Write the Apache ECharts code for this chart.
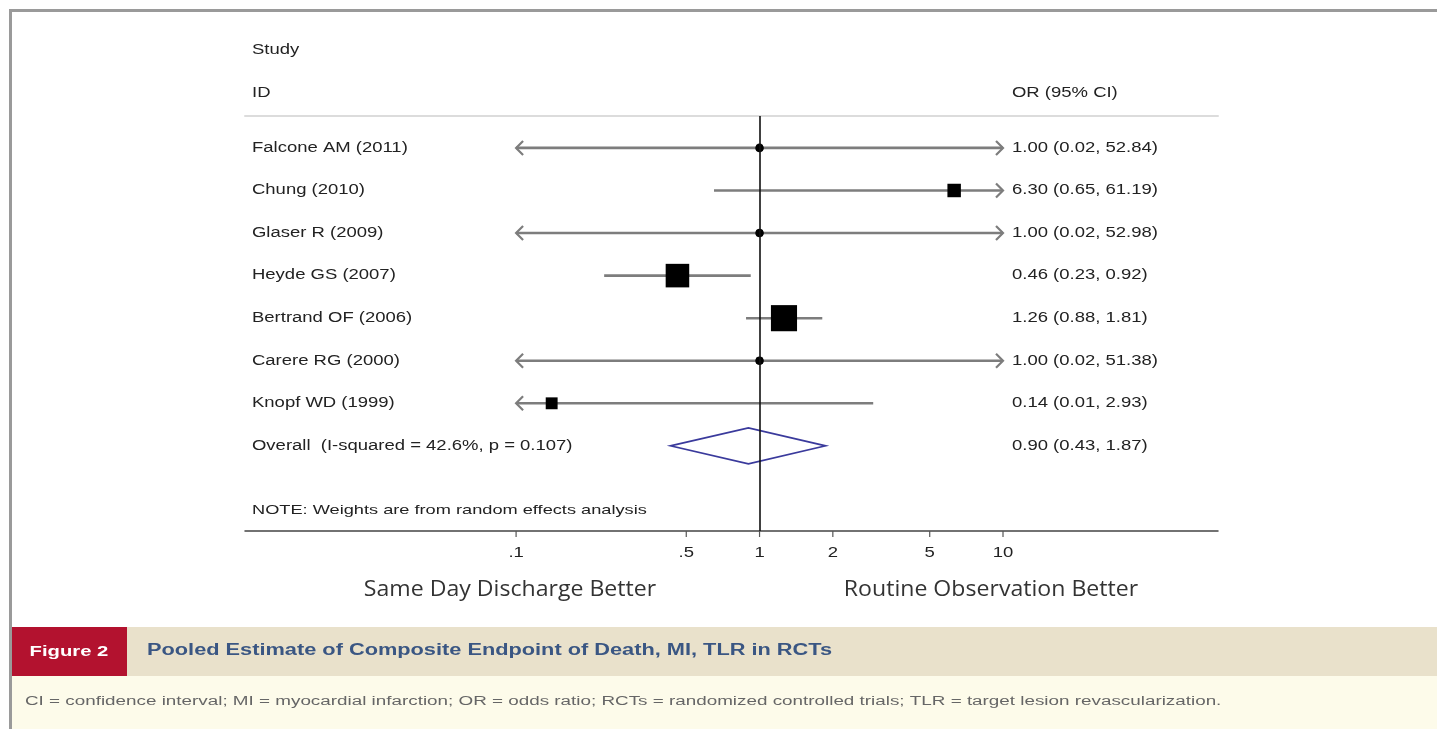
<!DOCTYPE html>
<html>
<head>
<meta charset="utf-8">
<script src="https://cdn.jsdelivr.net/npm/echarts@6/dist/echarts.min.js"></script>
<style>
  html, body { margin: 0; padding: 0; background: #fff; }
  #chart { width: 1437px; height: 729px; }
</style>
</head>
<body>
<div id="chart"></div>
<script>
// Study-level odds ratios with 95% confidence intervals
const studies   = ['Falcone AM (2011)', 'Chung (2010)', 'Glaser R (2009)', 'Heyde GS (2007)',
                   'Bertrand OF (2006)', 'Carere RG (2000)', 'Knopf WD (1999)'];
const oddsRatio = [1.00, 6.30, 1.00, 0.46, 1.26, 1.00, 0.14];
const ciLower   = [0.02, 0.65, 0.02, 0.23, 0.88, 0.02, 0.01];
const ciUpper   = [52.84, 61.19, 52.98, 0.92, 1.81, 51.38, 2.93];
// random-effects weights (%), shown as box area
const weights   = [2.4, 10.8, 2.4, 33.0, 40.6, 2.4, 8.4];

// Pooled estimate: OR, lower, upper
const overallLabel = 'Overall  (I-squared = 42.6%, p = 0.107)';
const overallEstimate = [0.90, 0.43, 1.87];

// Axis ticks
const tickValues = [0.1, 0.5, 1, 2, 5, 10];
const tickLabels = ['.1', '.5', '1', '2', '5', '10'];

// Display range for CI lines; beyond it an arrow is drawn
const clipMin = 0.1, clipMax = 10;

const LABEL_FONT = '14px "Liberation Sans", Arial, sans-serif';
const TEXT_SCALE = 1.32;
const CI_COLOR = '#7d7d7d';

const chart = echarts.init(document.getElementById('chart'), null, { renderer: 'canvas' });

const studyData = studies.map((s, i) => [i + 1, oddsRatio[i], ciLower[i], ciUpper[i], weights[i]]);
const overallRow = studies.length + 1;

function fmt(or, lo, hi) {
  return or.toFixed(2) + ' (' + lo.toFixed(2) + ', ' + hi.toFixed(2) + ')';
}

function label(x, y, text, extra) {
  return Object.assign({ type: 'text', x: x, y: y, scaleX: TEXT_SCALE,
    style: { text: text, font: LABEL_FONT, fill: '#222', verticalAlign: 'middle', align: 'left' } }, extra || {});
}

function renderStudy(params, api) {
  const i = params.dataIndex;
  const row = api.value(0), est = api.value(1), lo = api.value(2), hi = api.value(3), w = api.value(4);
  const y = api.coord([1, row])[1];
  const xl = api.coord([Math.max(lo, clipMin), row])[0];
  const xh = api.coord([Math.min(hi, clipMax), row])[0];
  const xe = api.coord([est, row])[0];
  const children = [];
  children.push({ type: 'line', shape: { x1: xl, y1: y, x2: xh, y2: y },
                  style: { stroke: CI_COLOR, lineWidth: 2.6 } });
  if (lo < clipMin) {
    children.push({ type: 'polyline', shape: { points: [[xl + 7, y - 7], [xl, y], [xl + 7, y + 7]] },
                    style: { stroke: CI_COLOR, lineWidth: 2.2, fill: null } });
  }
  if (hi > clipMax) {
    children.push({ type: 'polyline', shape: { points: [[xh - 7, y - 7], [xh, y], [xh - 7, y + 7]] },
                    style: { stroke: CI_COLOR, lineWidth: 2.2, fill: null } });
  }
  const side = 4.1 * Math.sqrt(w);
  children.push({ type: 'rect', shape: { x: xe - side / 2, y: y - side / 2, width: side, height: side },
                  style: { fill: '#000' } });
  children.push({ type: 'circle', shape: { cx: xe, cy: y, r: 4.3 }, style: { fill: '#000' } });
  children.push(label(252, y, studies[i]));
  children.push(label(1012, y, fmt(est, lo, hi)));
  return { type: 'group', children: children };
}

function renderOverall(params, api) {
  const row = api.value(0), est = api.value(1), lo = api.value(2), hi = api.value(3);
  const y = api.coord([1, row])[1];
  const xl = api.coord([lo, row])[0], xh = api.coord([hi, row])[0], xe = api.coord([est, row])[0];
  const h = 18;
  return { type: 'group', children: [
    { type: 'polygon', shape: { points: [[xl, y], [xe, y - h], [xh, y], [xe, y + h]] },
      style: { stroke: '#3a3a9c', lineWidth: 1.6, fill: null } },
    label(252, y, overallLabel),
    label(1012, y, fmt(est, lo, hi))
  ] };
}

function renderTick(params, api) {
  const i = params.dataIndex;
  const x = api.coord([api.value(0), 10])[0];
  const yAxis = api.coord([1, 10])[1];
  return { type: 'group', children: [
    { type: 'line', shape: { x1: x, y1: yAxis, x2: x, y2: yAxis + 6 }, style: { stroke: '#555', lineWidth: 1.2 } },
    { type: 'text', x: x, y: yAxis + 22, scaleX: TEXT_SCALE,
      style: { text: tickLabels[i], font: LABEL_FONT, fill: '#222', align: 'center', verticalAlign: 'middle' } }
  ] };
}

const option = {
  animation: false,
  backgroundColor: '#fff',
  grid: { left: 245, right: 219, top: 116, bottom: 198, containLabel: false },
  xAxis: [
    { type: 'log', logBase: 10, min: 0.0077, max: 76.4, position: 'bottom',
      axisLine: { show: true, lineStyle: { color: '#444', width: 1.5 } },
      axisTick: { show: false }, axisLabel: { show: false }, splitLine: { show: false } },
    { type: 'log', logBase: 10, min: 0.0077, max: 76.4, position: 'top',
      axisLine: { show: true, lineStyle: { color: '#dcdcdc', width: 2 } },
      axisTick: { show: false }, axisLabel: { show: false }, splitLine: { show: false } }
  ],
  yAxis: { type: 'value', min: 0.25, max: 10, inverse: true, show: false },
  series: [
    { type: 'custom', name: 'studies', xAxisIndex: 0, renderItem: renderStudy,
      encode: { x: 1, y: 0 }, data: studyData, silent: true, z: 3,
      markLine: { silent: true, symbol: 'none', label: { show: false },
                  lineStyle: { color: '#111', width: 1.6, type: 'solid' },
                  data: [{ xAxis: 1 }] } },
    { type: 'custom', name: 'overall', xAxisIndex: 0, renderItem: renderOverall,
      encode: { x: 1, y: 0 }, data: [[overallRow, overallEstimate[0], overallEstimate[1], overallEstimate[2]]],
      silent: true, z: 4 },
    { type: 'custom', name: 'ticks', xAxisIndex: 0, renderItem: renderTick,
      encode: { x: 0 }, data: tickValues.map(v => [v]), silent: true, clip: false }
  ],
  graphic: [
    // frame
    { type: 'rect', shape: { x: 9, y: 9, width: 1440, height: 3 }, style: { fill: '#9a9a9a' }, silent: true },
    { type: 'rect', shape: { x: 9, y: 9, width: 3, height: 730 }, style: { fill: '#9a9a9a' }, silent: true },
    // column headers
    label(252, 50, 'Study'),
    label(252, 93, 'ID'),
    label(1012, 93, 'OR (95% CI)'),
    { type: 'text', x: 252, y: 510, scaleX: 1.4,
      style: { text: 'NOTE: Weights are from random effects analysis', font: '13px "Liberation Sans", Arial, sans-serif', fill: '#222', verticalAlign: 'middle' } },
    // direction labels
    { type: 'text', x: 510, y: 590, scaleX: 1.1, originX: 0,
      style: { text: 'Same Day Discharge Better', font: '21px "Open Sans", sans-serif', fill: '#333', align: 'center', verticalAlign: 'middle' } },
    { type: 'text', x: 991, y: 590, scaleX: 1.1, originX: 0,
      style: { text: 'Routine Observation Better', font: '21px "Open Sans", sans-serif', fill: '#333', align: 'center', verticalAlign: 'middle' } },
    // figure caption bands
    { type: 'rect', shape: { x: 12, y: 627, width: 1425, height: 49 }, style: { fill: '#e9e1cb' }, silent: true },
    { type: 'rect', shape: { x: 12, y: 676, width: 1425, height: 53 }, style: { fill: '#fdfbea' }, silent: true },
    { type: 'rect', shape: { x: 12, y: 627, width: 115, height: 49 }, style: { fill: '#b3122f' }, silent: true },
    { type: 'text', x: 69, y: 652, scaleX: 1.35,
      style: { text: 'Figure 2', font: 'bold 15px "Liberation Sans", Arial, sans-serif', fill: '#fff', align: 'center', verticalAlign: 'middle' } },
    { type: 'text', x: 147, y: 651, scaleX: 1.36,
      style: { text: 'Pooled Estimate of Composite Endpoint of Death, MI, TLR in RCTs', font: 'bold 16px "Liberation Sans", Arial, sans-serif', fill: '#3a5683', verticalAlign: 'middle' } },
    { type: 'text', x: 25, y: 702, scaleX: 1.57,
      style: { text: 'CI = confidence interval; MI = myocardial infarction; OR = odds ratio; RCTs = randomized controlled trials; TLR = target lesion revascularization.',
               font: '12px "Liberation Sans", Arial, sans-serif', fill: '#666', verticalAlign: 'middle' } }
  ]
};

chart.setOption(option);
</script>
</body>
</html>
